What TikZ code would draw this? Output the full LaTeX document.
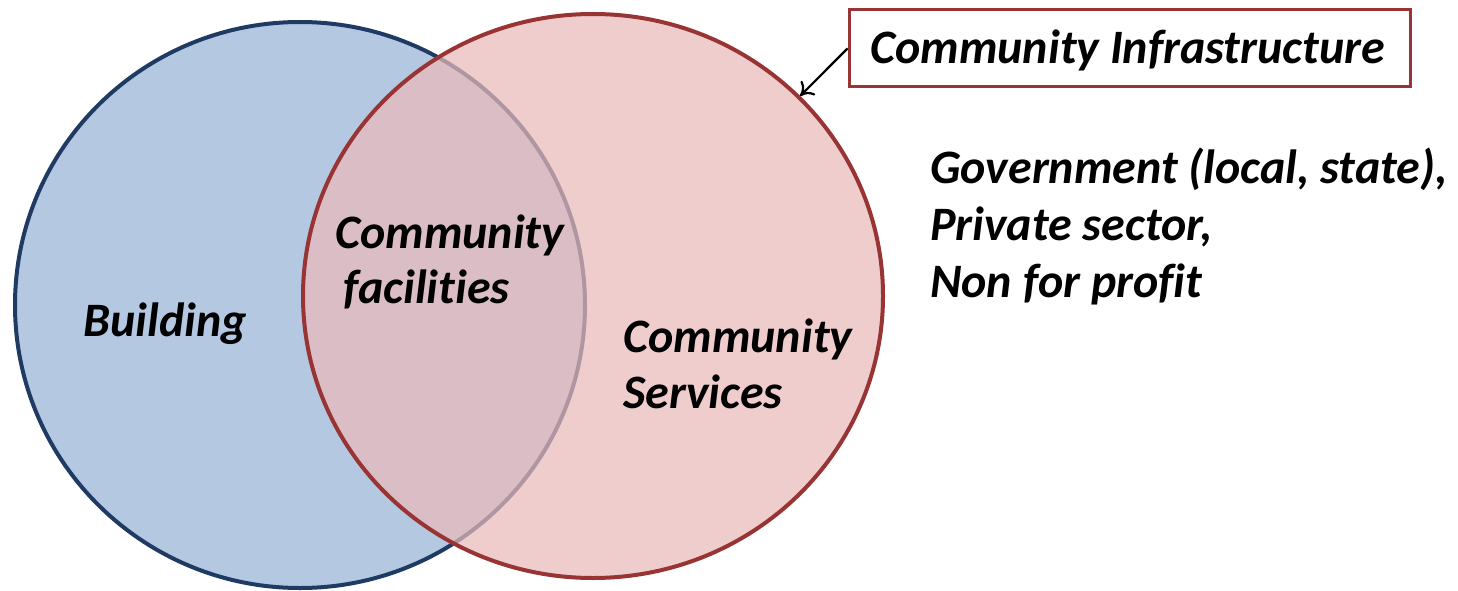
\documentclass[tikz,border=0pt]{standalone}
\usepackage{fontspec}
\setmainfont[Ligatures=NoCommon]{Carlito}
\usetikzlibrary{shapes.geometric,arrows.meta}
\definecolor{bluefill}{RGB}{180,200,226}
\definecolor{blueline}{RGB}{31,59,99}
\definecolor{redfill}{RGB}{233,186,186}
\definecolor{redline}{RGB}{152,52,52}
\begin{document}
\begin{tikzpicture}[x=1pt,y=-1pt,
  lbl/.style={font=\fontsize{48}{57}\selectfont\bfseries\itshape, inner sep=0pt, anchor=base west},
  circ/.style={ellipse, inner sep=0pt, line width=4pt}]
\useasboundingbox (0,0) rectangle (1458,591);
\node[circ, draw=blueline, fill=bluefill, minimum width=570pt, minimum height=566pt] (blue) at (300,305) {};
\node[circ, draw=redline, fill=redfill, fill opacity=0.72, minimum width=580pt, minimum height=564pt] (red) at (593,296) {};
\node[lbl] (bld) at (83,336) {Building};
\node[lbl] (fac1) at (335,248) {Community};
\node[lbl] (fac2) at (343,303) {facilities};
\node[lbl] (srv1) at (623,352) {Community};
\node[lbl] (srv2) at (623,408) {Services};
\node[lbl] (org1) at (930,183) {Government (local, state),};
\node[lbl] (org2) at (930,240) {Private sector,};
\node[lbl] (org3) at (930,297) {Non for profit};
\node[draw=redline, line width=3pt, fill=white, minimum width=561pt, minimum height=77pt, inner sep=0pt] (box) at (1129.5,48.5) {};
\node[lbl] (boxt) at (870,64) {Community Infrastructure};
\draw[line width=2.2pt, -{To[length=12pt,width=20pt]}] (box.west) -- (red.44);
\end{tikzpicture}
\end{document}
